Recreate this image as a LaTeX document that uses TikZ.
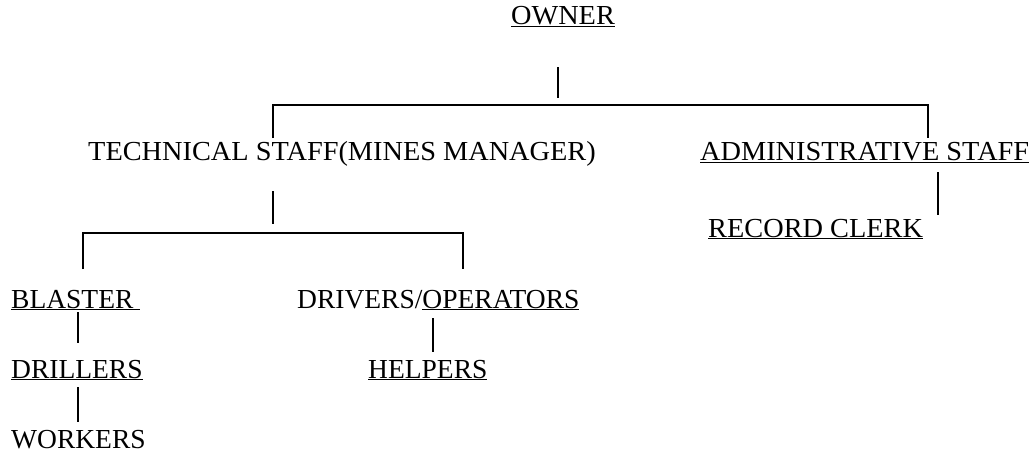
\documentclass[tikz,border=0pt]{standalone}
\usepackage{fontspec}
\setmainfont{Liberation Serif}
\begin{document}
\begin{tikzpicture}[x=1pt,y=-1pt,
  lbl/.style={inner sep=0pt,anchor=base west,font=\fontsize{27.5}{32}\selectfont},
  wide/.style={lbl,xscale=1.03},
  link/.style={line width=1.4pt,line cap=butt}]
\useasboundingbox (0,0) rectangle (1034,455);

% staff titles
\node[wide,anchor=base] (owner) at (563,24) {\underline{OWNER}};
\node[wide] (tech) at (88,160) {TECHNICAL STAFF(MINES MANAGER)};
\node[wide] (admin) at (700,160) {\underline{ADMINISTRATIVE STAFF}};
\node[wide] (clerk) at (708,237) {\underline{RECORD CLERK}};
\node[lbl] (blaster) at (11,308) {\underline{BLASTER\ }};
\node[lbl] (drivers) at (297,308) {DRIVERS/\underline{OPERATORS}};
\node[lbl] (drillers) at (11,378) {\underline{DRILLERS}};
\node[lbl] (helpers) at (368,378) {\underline{HELPERS}};
\node[lbl] (workers) at (11,448) {WORKERS};

% end points of the connecting lines
\coordinate (ownerA) at (558,67);   \coordinate (ownerB) at (558,98);
\coordinate (topL) at (273,105);    \coordinate (topR) at (928,105);
\coordinate (topLd) at (273,138);   \coordinate (topRd) at (928,138);
\coordinate (techA) at (273,191);   \coordinate (techB) at (273,224);
\coordinate (subL) at (83,233);     \coordinate (subR) at (463,233);
\coordinate (subLd) at (83,269);    \coordinate (subRd) at (463,269);
\coordinate (adminA) at (938,172);  \coordinate (adminB) at (938,215);
\coordinate (blastA) at (78,312);   \coordinate (blastB) at (78,343);
\coordinate (drillA) at (78,387);   \coordinate (drillB) at (78,422);
\coordinate (operA) at (433,318);   \coordinate (operB) at (433,352);

% owner to the two staff branches
\draw[link] (ownerA) -- (ownerB);
\draw[link] (topLd) -- (topL) -- (topR) -- (topRd);
% technical staff to its crews
\draw[link] (techA) -- (techB);
\draw[link] (subLd) -- (subL) -- (subR) -- (subRd);
% administrative chain
\draw[link] (adminA) -- (adminB);
% crew chains
\draw[link] (blastA) -- (blastB);
\draw[link] (drillA) -- (drillB);
\draw[link] (operA) -- (operB);
\end{tikzpicture}
\end{document}
